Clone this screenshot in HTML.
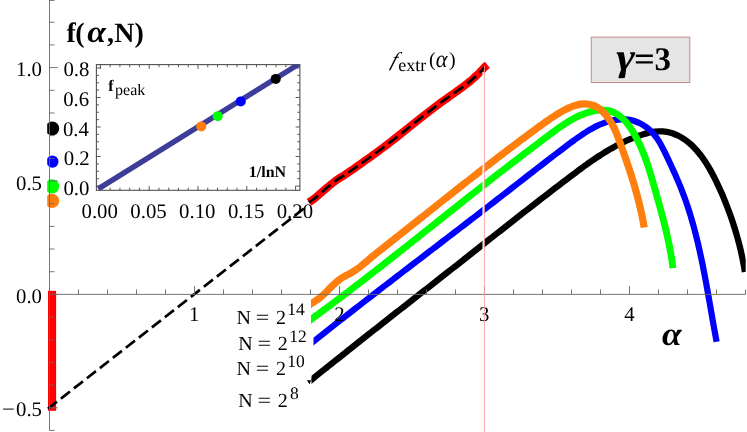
<!DOCTYPE html>
<html><head><meta charset="utf-8"><title>chart</title>
<style>html,body{margin:0;padding:0;background:#fff;overflow:hidden}svg{display:block}text{text-rendering:geometricPrecision}</style></head>
<body>
<svg width="747" height="432" viewBox="0 0 747 432">
<rect width="747" height="432" fill="#fff"/>
<rect x="48" y="290.8" width="8.1" height="120" fill="#f00"/>
<path d="M308.91,202.40 C309.43,202.04 311.00,201.03 312.04,200.27 C313.09,199.52 314.13,198.71 315.18,197.87 C316.23,197.04 317.27,196.16 318.32,195.27 C319.37,194.38 320.42,193.45 321.47,192.53 C322.52,191.62 323.57,190.68 324.63,189.75 C325.69,188.83 326.75,187.90 327.81,186.99 C328.87,186.09 329.93,185.19 331.00,184.33 C332.07,183.48 333.14,182.65 334.22,181.85 C335.30,181.05 336.38,180.30 337.46,179.55 C338.55,178.81 339.63,178.09 340.72,177.38 C341.81,176.67 342.91,175.97 344.00,175.27 C345.10,174.56 346.20,173.86 347.29,173.15 C348.39,172.43 349.49,171.70 350.60,170.95 C351.70,170.21 352.80,169.44 353.90,168.68 C355.01,167.91 356.11,167.13 357.22,166.35 C358.32,165.57 359.42,164.78 360.53,163.99 C361.63,163.20 362.73,162.41 363.84,161.62 C364.94,160.84 366.04,160.06 367.14,159.27 C368.24,158.49 369.34,157.71 370.44,156.93 C371.53,156.15 372.63,155.37 373.72,154.58 C374.81,153.80 375.90,153.01 376.99,152.22 C378.07,151.42 379.16,150.63 380.24,149.82 C381.32,149.02 382.40,148.22 383.47,147.40 C384.55,146.59 385.62,145.78 386.69,144.96 C387.76,144.14 388.83,143.32 389.89,142.49 C390.96,141.67 392.03,140.84 393.09,140.01 C394.15,139.18 395.21,138.34 396.27,137.51 C397.33,136.67 398.39,135.83 399.45,134.99 C400.51,134.16 401.56,133.31 402.62,132.47 C403.68,131.63 404.73,130.79 405.79,129.94 C406.84,129.10 407.90,128.25 408.95,127.41 C410.01,126.57 411.06,125.72 412.12,124.88 C413.17,124.03 414.23,123.19 415.28,122.35 C416.34,121.51 417.40,120.66 418.46,119.82 C419.51,118.98 420.57,118.14 421.63,117.31 C422.69,116.47 423.75,115.64 424.82,114.81 C425.88,113.97 426.95,113.14 428.01,112.32 C429.08,111.49 430.15,110.67 431.22,109.85 C432.29,109.03 433.36,108.21 434.44,107.40 C435.52,106.59 436.59,105.78 437.67,104.97 C438.76,104.17 439.84,103.37 440.93,102.58 C442.02,101.78 443.11,101.00 444.20,100.21 C445.29,99.43 446.39,98.65 447.49,97.87 C448.59,97.09 449.69,96.32 450.78,95.54 C451.88,94.77 452.98,94.00 454.08,93.22 C455.17,92.44 456.27,91.66 457.36,90.88 C458.45,90.09 459.54,89.31 460.62,88.51 C461.70,87.72 462.78,86.92 463.85,86.10 C464.92,85.29 465.99,84.48 467.04,83.64 C468.10,82.81 469.14,81.97 470.18,81.12 C471.22,80.26 472.24,79.39 473.26,78.51 C474.28,77.62 475.28,76.72 476.27,75.80 C477.26,74.88 478.24,73.95 479.20,72.99 C480.17,72.03 481.12,71.06 482.05,70.06 C482.98,69.06 484.34,67.50 484.80,66.99 L487.4,64.9" fill="none" stroke="#f00" stroke-width="8" stroke-linejoin="round"/>
<line x1="47.9" y1="408.75" x2="306" y2="206.85" stroke="#000" stroke-width="2.7" stroke-dasharray="11.5,5"/>
<path d="M308.91,202.40 C309.43,202.04 311.00,201.03 312.04,200.27 C313.09,199.52 314.13,198.71 315.18,197.87 C316.23,197.04 317.27,196.16 318.32,195.27 C319.37,194.38 320.42,193.45 321.47,192.53 C322.52,191.62 323.57,190.68 324.63,189.75 C325.69,188.83 326.75,187.90 327.81,186.99 C328.87,186.09 329.93,185.19 331.00,184.33 C332.07,183.48 333.14,182.65 334.22,181.85 C335.30,181.05 336.38,180.30 337.46,179.55 C338.55,178.81 339.63,178.09 340.72,177.38 C341.81,176.67 342.91,175.97 344.00,175.27 C345.10,174.56 346.20,173.86 347.29,173.15 C348.39,172.43 349.49,171.70 350.60,170.95 C351.70,170.21 352.80,169.44 353.90,168.68 C355.01,167.91 356.11,167.13 357.22,166.35 C358.32,165.57 359.42,164.78 360.53,163.99 C361.63,163.20 362.73,162.41 363.84,161.62 C364.94,160.84 366.04,160.06 367.14,159.27 C368.24,158.49 369.34,157.71 370.44,156.93 C371.53,156.15 372.63,155.37 373.72,154.58 C374.81,153.80 375.90,153.01 376.99,152.22 C378.07,151.42 379.16,150.63 380.24,149.82 C381.32,149.02 382.40,148.22 383.47,147.40 C384.55,146.59 385.62,145.78 386.69,144.96 C387.76,144.14 388.83,143.32 389.89,142.49 C390.96,141.67 392.03,140.84 393.09,140.01 C394.15,139.18 395.21,138.34 396.27,137.51 C397.33,136.67 398.39,135.83 399.45,134.99 C400.51,134.16 401.56,133.31 402.62,132.47 C403.68,131.63 404.73,130.79 405.79,129.94 C406.84,129.10 407.90,128.25 408.95,127.41 C410.01,126.57 411.06,125.72 412.12,124.88 C413.17,124.03 414.23,123.19 415.28,122.35 C416.34,121.51 417.40,120.66 418.46,119.82 C419.51,118.98 420.57,118.14 421.63,117.31 C422.69,116.47 423.75,115.64 424.82,114.81 C425.88,113.97 426.95,113.14 428.01,112.32 C429.08,111.49 430.15,110.67 431.22,109.85 C432.29,109.03 433.36,108.21 434.44,107.40 C435.52,106.59 436.59,105.78 437.67,104.97 C438.76,104.17 439.84,103.37 440.93,102.58 C442.02,101.78 443.11,101.00 444.20,100.21 C445.29,99.43 446.39,98.65 447.49,97.87 C448.59,97.09 449.69,96.32 450.78,95.54 C451.88,94.77 452.98,94.00 454.08,93.22 C455.17,92.44 456.27,91.66 457.36,90.88 C458.45,90.09 459.54,89.31 460.62,88.51 C461.70,87.72 462.78,86.92 463.85,86.10 C464.92,85.29 465.99,84.48 467.04,83.64 C468.10,82.81 469.14,81.97 470.18,81.12 C471.22,80.26 472.24,79.39 473.26,78.51 C474.28,77.62 475.28,76.72 476.27,75.80 C477.26,74.88 478.24,73.95 479.20,72.99 C480.17,72.03 481.12,71.06 482.05,70.06 C482.98,69.06 484.34,67.50 484.80,66.99" fill="none" stroke="#000" stroke-width="2.7" stroke-dasharray="11.5,5"/>
<clipPath id="ck"><rect x="311.50" y="0" width="434.20" height="432"/></clipPath>
<clipPath id="cb"><rect x="313.50" y="0" width="432.20" height="432"/></clipPath>
<clipPath id="cg"><rect x="311.00" y="0" width="434.70" height="432"/></clipPath>
<clipPath id="co"><rect x="311.00" y="0" width="434.70" height="432"/></clipPath>
<g fill="none" stroke-linejoin="round">
<path d="M300.01,389.00 C300.53,388.58 302.09,387.32 303.13,386.48 C304.17,385.64 305.21,384.80 306.25,383.96 C307.29,383.12 308.33,382.28 309.37,381.44 C310.41,380.61 311.45,379.77 312.50,378.93 C313.54,378.09 314.58,377.26 315.62,376.42 C316.66,375.58 317.70,374.75 318.75,373.91 C319.79,373.08 320.83,372.24 321.87,371.41 C322.92,370.57 323.96,369.74 325.00,368.91 C326.05,368.07 327.09,367.24 328.13,366.40 C329.17,365.57 330.22,364.74 331.26,363.91 C332.31,363.07 333.35,362.24 334.39,361.41 C335.44,360.58 336.48,359.75 337.52,358.92 C338.57,358.09 339.61,357.26 340.66,356.43 C341.70,355.60 342.75,354.77 343.79,353.94 C344.84,353.11 345.88,352.28 346.93,351.45 C347.97,350.62 349.02,349.79 350.06,348.97 C351.11,348.14 352.15,347.31 353.20,346.48 C354.24,345.65 355.29,344.83 356.34,344.00 C357.38,343.17 358.43,342.35 359.47,341.52 C360.52,340.69 361.57,339.87 362.61,339.04 C363.66,338.21 364.70,337.39 365.75,336.56 C366.80,335.74 367.84,334.91 368.89,334.09 C369.94,333.26 370.99,332.44 372.03,331.61 C373.08,330.79 374.13,329.96 375.17,329.14 C376.22,328.31 377.27,327.49 378.32,326.66 C379.36,325.84 380.41,325.02 381.46,324.19 C382.51,323.37 383.55,322.55 384.60,321.72 C385.65,320.90 386.70,320.07 387.75,319.25 C388.79,318.43 389.84,317.61 390.89,316.78 C391.94,315.96 392.99,315.14 394.04,314.31 C395.08,313.49 396.13,312.67 397.18,311.84 C398.23,311.02 399.28,310.20 400.33,309.38 C401.38,308.55 402.43,307.73 403.47,306.91 C404.52,306.09 405.57,305.26 406.62,304.44 C407.67,303.62 408.72,302.80 409.77,301.97 C410.82,301.15 411.87,300.33 412.92,299.51 C413.97,298.68 415.02,297.86 416.06,297.04 C417.11,296.22 418.16,295.39 419.21,294.57 C420.26,293.75 421.31,292.93 422.36,292.10 C423.41,291.28 424.46,290.46 425.51,289.64 C426.56,288.81 427.61,287.99 428.66,287.17 C429.71,286.34 430.76,285.52 431.81,284.70 C432.86,283.87 433.91,283.05 434.96,282.23 C436.01,281.40 437.06,280.58 438.11,279.76 C439.16,278.93 440.21,278.11 441.26,277.29 C442.31,276.46 443.36,275.64 444.41,274.82 C445.46,273.99 446.51,273.17 447.56,272.34 C448.62,271.52 449.67,270.69 450.72,269.87 C451.77,269.04 452.82,268.22 453.87,267.39 C454.92,266.57 455.97,265.74 457.02,264.92 C458.07,264.09 459.12,263.27 460.17,262.44 C461.22,261.61 462.27,260.79 463.32,259.96 C464.37,259.14 465.42,258.31 466.47,257.48 C467.52,256.65 468.57,255.83 469.63,255.00 C470.68,254.17 471.73,253.34 472.78,252.52 C473.83,251.69 474.88,250.86 475.93,250.03 C476.98,249.21 478.03,248.38 479.08,247.55 C480.13,246.72 481.18,245.89 482.23,245.06 C483.28,244.24 484.34,243.41 485.39,242.58 C486.44,241.75 487.49,240.92 488.54,240.09 C489.59,239.27 490.64,238.44 491.69,237.61 C492.74,236.78 493.79,235.95 494.85,235.13 C495.90,234.30 496.95,233.47 498.00,232.64 C499.05,231.81 500.10,230.99 501.15,230.16 C502.20,229.33 503.26,228.51 504.31,227.68 C505.36,226.85 506.41,226.03 507.46,225.20 C508.52,224.37 509.57,223.55 510.62,222.72 C511.67,221.90 512.72,221.07 513.78,220.25 C514.83,219.42 515.88,218.60 516.93,217.77 C517.98,216.95 519.04,216.12 520.09,215.30 C521.14,214.48 522.19,213.65 523.25,212.83 C524.30,212.01 525.35,211.19 526.41,210.37 C527.46,209.55 528.51,208.72 529.57,207.90 C530.62,207.08 531.67,206.26 532.73,205.45 C533.78,204.63 534.83,203.81 535.89,202.99 C536.94,202.17 538.00,201.36 539.05,200.54 C540.10,199.72 541.16,198.91 542.21,198.09 C543.27,197.28 544.32,196.46 545.38,195.65 C546.43,194.84 547.49,194.02 548.54,193.21 C549.60,192.40 550.65,191.59 551.71,190.78 C552.76,189.97 553.82,189.16 554.87,188.35 C555.93,187.54 556.99,186.73 558.04,185.93 C559.10,185.12 560.15,184.31 561.21,183.51 C562.27,182.71 563.32,181.90 564.38,181.10 C565.44,180.30 566.49,179.49 567.55,178.69 C568.61,177.89 569.67,177.09 570.72,176.29 C571.78,175.50 572.84,174.70 573.90,173.90 C574.96,173.11 576.02,172.31 577.08,171.52 C578.14,170.73 579.20,169.94 580.26,169.15 C581.33,168.37 582.40,167.58 583.47,166.80 C584.54,166.02 585.61,165.25 586.69,164.48 C587.76,163.70 588.84,162.94 589.93,162.18 C591.02,161.41 592.10,160.66 593.20,159.91 C594.30,159.16 595.40,158.41 596.50,157.67 C597.61,156.93 598.72,156.20 599.84,155.48 C600.96,154.75 602.09,154.03 603.22,153.32 C604.35,152.61 605.49,151.91 606.64,151.22 C607.79,150.53 608.95,149.84 610.12,149.16 C611.28,148.49 612.46,147.82 613.65,147.17 C614.83,146.51 616.03,145.87 617.23,145.23 C618.43,144.60 619.64,143.98 620.86,143.37 C622.08,142.76 623.31,142.16 624.55,141.58 C625.78,141.00 627.02,140.44 628.27,139.89 C629.52,139.34 630.77,138.81 632.03,138.30 C633.29,137.78 634.55,137.29 635.82,136.81 C637.09,136.34 638.36,135.88 639.64,135.45 C640.91,135.01 642.19,134.60 643.48,134.21 C644.76,133.82 646.05,133.45 647.33,133.12 C648.62,132.80 649.91,132.49 651.20,132.24 C652.49,131.99 653.79,131.78 655.08,131.63 C656.37,131.47 657.67,131.36 658.96,131.33 C660.25,131.29 661.54,131.31 662.83,131.41 C664.12,131.50 665.41,131.66 666.69,131.89 C667.97,132.11 669.25,132.40 670.50,132.75 C671.76,133.10 673.01,133.51 674.23,133.97 C675.45,134.43 676.66,134.95 677.84,135.52 C679.02,136.08 680.18,136.70 681.31,137.36 C682.44,138.02 683.54,138.73 684.62,139.48 C685.70,140.23 686.76,141.02 687.79,141.84 C688.82,142.67 689.83,143.53 690.82,144.43 C691.80,145.32 692.76,146.25 693.70,147.20 C694.64,148.15 695.55,149.13 696.45,150.14 C697.34,151.14 698.21,152.17 699.06,153.22 C699.91,154.26 700.74,155.33 701.55,156.42 C702.35,157.50 703.14,158.61 703.91,159.73 C704.68,160.84 705.43,161.98 706.17,163.13 C706.90,164.27 707.62,165.44 708.32,166.61 C709.02,167.77 709.70,168.96 710.37,170.14 C711.04,171.33 711.69,172.52 712.33,173.72 C712.97,174.92 713.59,176.13 714.21,177.33 C714.82,178.54 715.42,179.75 716.01,180.95 C716.59,182.16 717.17,183.36 717.74,184.57 C718.30,185.77 718.86,186.97 719.40,188.17 C719.95,189.37 720.49,190.56 721.02,191.76 C721.55,192.96 722.07,194.16 722.58,195.36 C723.09,196.56 723.60,197.77 724.10,198.98 C724.60,200.19 725.10,201.41 725.59,202.63 C726.08,203.86 726.56,205.09 727.04,206.32 C727.52,207.55 727.99,208.79 728.45,210.04 C728.92,211.28 729.38,212.53 729.83,213.78 C730.28,215.04 730.73,216.30 731.16,217.56 C731.60,218.82 732.03,220.09 732.46,221.35 C732.88,222.62 733.30,223.90 733.71,225.18 C734.12,226.45 734.52,227.73 734.92,229.02 C735.31,230.30 735.70,231.59 736.08,232.88 C736.46,234.16 736.83,235.46 737.20,236.75 C737.56,238.04 737.92,239.34 738.26,240.64 C738.61,241.94 738.95,243.24 739.28,244.54 C739.61,245.84 739.94,247.15 740.25,248.45 C740.56,249.76 740.87,251.06 741.16,252.37 C741.46,253.68 741.74,254.99 742.02,256.29 C742.30,257.60 742.57,258.91 742.83,260.22 C743.08,261.53 743.33,262.84 743.57,264.15 C743.81,265.46 744.04,266.77 744.26,268.08 C744.48,269.39 744.79,271.35 744.89,272.00" stroke="#000" stroke-width="6.3" clip-path="url(#ck)"/>
<path d="M306.8,380.2 L312,380.2 L312,378 L309.6,384.2 Z" fill="#000"/>
<path d="M300.02,352.34 C300.54,351.92 302.09,350.67 303.13,349.83 C304.17,349.00 305.21,348.16 306.25,347.33 C307.29,346.50 308.33,345.66 309.37,344.83 C310.42,344.00 311.46,343.16 312.50,342.33 C313.54,341.50 314.59,340.66 315.63,339.83 C316.68,339.00 317.72,338.17 318.77,337.34 C319.81,336.51 320.86,335.68 321.91,334.85 C322.95,334.01 324.00,333.18 325.05,332.35 C326.10,331.53 327.15,330.70 328.20,329.87 C329.25,329.04 330.30,328.21 331.35,327.38 C332.40,326.55 333.45,325.72 334.50,324.90 C335.55,324.07 336.60,323.24 337.66,322.41 C338.71,321.59 339.76,320.76 340.82,319.93 C341.87,319.11 342.93,318.28 343.98,317.46 C345.04,316.63 346.09,315.80 347.15,314.98 C348.20,314.15 349.26,313.33 350.32,312.50 C351.37,311.68 352.43,310.86 353.49,310.03 C354.54,309.21 355.60,308.38 356.66,307.56 C357.72,306.74 358.78,305.91 359.84,305.09 C360.90,304.27 361.95,303.44 363.01,302.62 C364.07,301.80 365.13,300.98 366.20,300.16 C367.26,299.33 368.32,298.51 369.38,297.69 C370.44,296.87 371.50,296.05 372.56,295.23 C373.62,294.41 374.69,293.59 375.75,292.77 C376.81,291.94 377.87,291.12 378.94,290.30 C380.00,289.48 381.06,288.66 382.12,287.84 C383.19,287.03 384.25,286.21 385.31,285.39 C386.38,284.57 387.44,283.75 388.51,282.93 C389.57,282.11 390.63,281.29 391.70,280.47 C392.76,279.66 393.83,278.84 394.89,278.02 C395.96,277.20 397.02,276.38 398.09,275.57 C399.15,274.75 400.22,273.93 401.28,273.11 C402.35,272.30 403.41,271.48 404.48,270.66 C405.54,269.84 406.61,269.03 407.67,268.21 C408.74,267.39 409.80,266.58 410.87,265.76 C411.94,264.94 413.00,264.13 414.07,263.31 C415.13,262.50 416.20,261.68 417.26,260.86 C418.33,260.05 419.39,259.23 420.46,258.42 C421.53,257.60 422.59,256.78 423.66,255.97 C424.72,255.15 425.79,254.34 426.85,253.52 C427.92,252.71 428.98,251.89 430.05,251.08 C431.11,250.26 432.18,249.45 433.24,248.63 C434.31,247.82 435.37,247.00 436.44,246.19 C437.50,245.37 438.57,244.56 439.63,243.74 C440.69,242.93 441.76,242.11 442.82,241.30 C443.89,240.48 444.95,239.67 446.01,238.86 C447.08,238.04 448.14,237.23 449.20,236.41 C450.27,235.60 451.33,234.78 452.39,233.97 C453.45,233.16 454.52,232.34 455.58,231.53 C456.64,230.71 457.70,229.90 458.76,229.09 C459.83,228.27 460.89,227.46 461.95,226.64 C463.01,225.83 464.07,225.01 465.13,224.20 C466.19,223.39 467.25,222.57 468.31,221.76 C469.37,220.94 470.43,220.13 471.49,219.32 C472.55,218.50 473.60,217.69 474.66,216.87 C475.72,216.06 476.78,215.25 477.84,214.43 C478.89,213.62 479.95,212.80 481.01,211.99 C482.06,211.17 483.12,210.36 484.17,209.55 C485.23,208.73 486.28,207.92 487.34,207.10 C488.39,206.29 489.45,205.47 490.50,204.66 C491.55,203.84 492.61,203.03 493.66,202.22 C494.71,201.40 495.76,200.59 496.82,199.77 C497.87,198.96 498.92,198.14 499.97,197.33 C501.02,196.51 502.07,195.70 503.12,194.88 C504.17,194.07 505.22,193.25 506.26,192.44 C507.31,191.62 508.36,190.80 509.41,189.99 C510.46,189.17 511.51,188.36 512.55,187.54 C513.60,186.73 514.65,185.91 515.70,185.09 C516.75,184.28 517.79,183.46 518.84,182.64 C519.89,181.83 520.94,181.01 521.99,180.19 C523.04,179.38 524.09,178.56 525.14,177.74 C526.19,176.92 527.24,176.11 528.29,175.29 C529.34,174.47 530.40,173.65 531.45,172.83 C532.50,172.02 533.56,171.20 534.61,170.38 C535.67,169.56 536.72,168.74 537.78,167.92 C538.84,167.10 539.89,166.28 540.95,165.46 C542.01,164.64 543.07,163.82 544.14,163.00 C545.20,162.18 546.26,161.36 547.33,160.54 C548.39,159.72 549.46,158.90 550.53,158.08 C551.60,157.25 552.67,156.43 553.74,155.61 C554.81,154.79 555.88,153.96 556.96,153.14 C558.04,152.32 559.11,151.49 560.19,150.67 C561.27,149.85 562.36,149.02 563.44,148.20 C564.52,147.38 565.61,146.56 566.70,145.74 C567.79,144.92 568.88,144.11 569.97,143.30 C571.07,142.49 572.16,141.68 573.26,140.89 C574.36,140.09 575.46,139.30 576.57,138.52 C577.67,137.73 578.78,136.96 579.89,136.19 C581.00,135.43 582.12,134.67 583.23,133.93 C584.35,133.19 585.47,132.46 586.60,131.75 C587.73,131.04 588.87,130.35 590.02,129.67 C591.16,129.00 592.31,128.35 593.48,127.72 C594.65,127.09 595.82,126.48 597.01,125.91 C598.20,125.33 599.40,124.78 600.62,124.26 C601.84,123.74 603.07,123.25 604.32,122.80 C605.57,122.35 606.84,121.93 608.12,121.56 C609.41,121.18 610.71,120.84 612.02,120.55 C613.32,120.26 614.65,120.01 615.97,119.81 C617.29,119.62 618.63,119.47 619.96,119.39 C621.28,119.31 622.62,119.27 623.94,119.31 C625.26,119.35 626.59,119.44 627.89,119.61 C629.20,119.78 630.50,120.02 631.79,120.33 C633.07,120.64 634.34,121.02 635.59,121.46 C636.83,121.89 638.06,122.40 639.26,122.97 C640.46,123.53 641.64,124.16 642.79,124.83 C643.93,125.51 645.05,126.25 646.13,127.03 C647.21,127.81 648.25,128.65 649.25,129.52 C650.25,130.40 651.22,131.33 652.13,132.29 C653.05,133.26 653.92,134.27 654.75,135.31 C655.58,136.34 656.37,137.42 657.13,138.53 C657.89,139.63 658.61,140.76 659.31,141.91 C660.01,143.07 660.68,144.25 661.34,145.44 C661.99,146.63 662.62,147.84 663.24,149.05 C663.86,150.27 664.45,151.50 665.05,152.72 C665.65,153.95 666.23,155.19 666.82,156.42 C667.40,157.65 667.99,158.88 668.56,160.10 C669.14,161.33 669.72,162.55 670.29,163.78 C670.86,165.00 671.43,166.22 671.99,167.45 C672.56,168.67 673.12,169.89 673.67,171.11 C674.23,172.34 674.77,173.56 675.32,174.78 C675.86,176.01 676.40,177.23 676.93,178.45 C677.46,179.68 677.99,180.91 678.50,182.14 C679.02,183.36 679.53,184.59 680.04,185.83 C680.54,187.06 681.04,188.29 681.53,189.53 C682.01,190.77 682.49,192.01 682.97,193.26 C683.44,194.50 683.90,195.75 684.36,197.00 C684.81,198.25 685.26,199.50 685.70,200.76 C686.14,202.01 686.58,203.27 687.00,204.53 C687.43,205.79 687.85,207.06 688.26,208.33 C688.67,209.59 689.07,210.86 689.47,212.13 C689.87,213.40 690.26,214.68 690.65,215.95 C691.03,217.23 691.41,218.51 691.78,219.79 C692.16,221.07 692.52,222.35 692.88,223.64 C693.24,224.92 693.60,226.21 693.95,227.50 C694.29,228.79 694.64,230.08 694.98,231.38 C695.31,232.67 695.65,233.96 695.97,235.26 C696.30,236.56 696.62,237.85 696.94,239.15 C697.26,240.45 697.57,241.76 697.88,243.06 C698.19,244.36 698.49,245.67 698.79,246.97 C699.09,248.28 699.38,249.59 699.67,250.90 C699.96,252.20 700.25,253.51 700.53,254.83 C700.82,256.14 701.10,257.45 701.37,258.76 C701.65,260.08 701.92,261.39 702.19,262.71 C702.46,264.02 702.73,265.34 702.99,266.65 C703.25,267.97 703.51,269.29 703.77,270.61 C704.03,271.93 704.28,273.25 704.53,274.56 C704.78,275.88 705.03,277.21 705.28,278.53 C705.53,279.85 705.78,281.17 706.02,282.49 C706.26,283.81 706.50,285.13 706.74,286.46 C706.98,287.78 707.22,289.10 707.46,290.42 C707.70,291.74 707.93,293.07 708.17,294.39 C708.40,295.71 708.64,297.03 708.87,298.36 C709.10,299.68 709.33,301.00 709.57,302.32 C709.80,303.65 710.03,304.97 710.26,306.29 C710.49,307.61 710.72,308.93 710.95,310.25 C711.18,311.57 711.41,312.89 711.64,314.21 C711.87,315.53 712.10,316.85 712.33,318.17 C712.56,319.49 712.80,320.80 713.03,322.12 C713.26,323.44 713.50,324.75 713.73,326.07 C713.96,327.38 714.20,328.70 714.44,330.01 C714.67,331.32 714.91,332.64 715.15,333.95 C715.39,335.26 715.63,336.57 715.88,337.87 C716.12,339.18 716.49,341.14 716.61,341.79" stroke="#00f" stroke-width="6.2" clip-path="url(#cb)"/>
<path d="M299.99,327.40 C300.53,327.01 302.16,325.84 303.24,325.06 C304.33,324.28 305.41,323.50 306.49,322.72 C307.58,321.93 308.66,321.15 309.74,320.37 C310.82,319.58 311.90,318.79 312.98,318.01 C314.06,317.22 315.13,316.43 316.21,315.64 C317.29,314.85 318.36,314.06 319.44,313.27 C320.51,312.48 321.59,311.69 322.66,310.89 C323.74,310.10 324.81,309.30 325.88,308.51 C326.95,307.71 328.02,306.92 329.09,306.12 C330.16,305.32 331.23,304.52 332.30,303.72 C333.37,302.92 334.44,302.12 335.51,301.32 C336.58,300.52 337.64,299.71 338.71,298.91 C339.78,298.11 340.84,297.30 341.91,296.50 C342.97,295.69 344.03,294.88 345.10,294.08 C346.16,293.27 347.22,292.46 348.29,291.65 C349.35,290.84 350.41,290.03 351.47,289.22 C352.53,288.41 353.59,287.60 354.65,286.79 C355.71,285.98 356.77,285.16 357.83,284.35 C358.89,283.54 359.95,282.72 361.00,281.91 C362.06,281.09 363.12,280.28 364.18,279.46 C365.23,278.64 366.29,277.83 367.34,277.01 C368.40,276.19 369.45,275.37 370.51,274.56 C371.56,273.74 372.62,272.92 373.67,272.10 C374.73,271.28 375.78,270.46 376.83,269.64 C377.88,268.81 378.94,267.99 379.99,267.17 C381.04,266.35 382.09,265.52 383.14,264.70 C384.20,263.88 385.25,263.05 386.30,262.23 C387.35,261.41 388.40,260.58 389.45,259.76 C390.50,258.93 391.55,258.11 392.60,257.28 C393.65,256.45 394.70,255.63 395.74,254.80 C396.79,253.97 397.84,253.15 398.89,252.32 C399.94,251.49 400.99,250.66 402.03,249.84 C403.08,249.01 404.13,248.18 405.18,247.35 C406.22,246.52 407.27,245.69 408.32,244.87 C409.37,244.04 410.41,243.21 411.46,242.38 C412.50,241.55 413.55,240.72 414.60,239.89 C415.64,239.06 416.69,238.23 417.74,237.40 C418.78,236.57 419.83,235.74 420.87,234.91 C421.92,234.08 422.97,233.24 424.01,232.41 C425.06,231.58 426.10,230.75 427.15,229.92 C428.19,229.09 429.24,228.26 430.28,227.43 C431.33,226.60 432.38,225.77 433.42,224.94 C434.47,224.10 435.51,223.27 436.56,222.44 C437.60,221.61 438.65,220.78 439.69,219.95 C440.74,219.12 441.79,218.29 442.83,217.46 C443.88,216.63 444.92,215.79 445.97,214.96 C447.01,214.13 448.06,213.30 449.11,212.47 C450.15,211.64 451.20,210.81 452.24,209.98 C453.29,209.15 454.34,208.32 455.38,207.49 C456.43,206.66 457.48,205.83 458.52,205.00 C459.57,204.18 460.62,203.35 461.67,202.52 C462.71,201.69 463.76,200.86 464.81,200.03 C465.86,199.20 466.90,198.38 467.95,197.55 C469.00,196.72 470.05,195.89 471.10,195.07 C472.15,194.24 473.20,193.41 474.25,192.59 C475.29,191.76 476.34,190.94 477.39,190.11 C478.44,189.29 479.49,188.46 480.55,187.64 C481.60,186.81 482.65,185.99 483.70,185.17 C484.75,184.34 485.80,183.52 486.85,182.70 C487.91,181.88 488.96,181.05 490.01,180.23 C491.06,179.41 492.12,178.59 493.17,177.77 C494.23,176.95 495.28,176.13 496.33,175.31 C497.39,174.49 498.44,173.67 499.50,172.86 C500.56,172.04 501.61,171.22 502.67,170.40 C503.72,169.59 504.78,168.77 505.84,167.96 C506.90,167.14 507.96,166.33 509.01,165.51 C510.07,164.70 511.13,163.89 512.19,163.07 C513.25,162.26 514.31,161.45 515.37,160.64 C516.43,159.83 517.49,159.02 518.55,158.21 C519.61,157.40 520.68,156.59 521.74,155.78 C522.80,154.97 523.86,154.16 524.92,153.35 C525.99,152.55 527.05,151.74 528.11,150.93 C529.17,150.13 530.24,149.32 531.30,148.51 C532.36,147.71 533.43,146.90 534.49,146.10 C535.55,145.29 536.62,144.49 537.68,143.69 C538.74,142.88 539.81,142.08 540.87,141.28 C541.93,140.47 543.00,139.67 544.06,138.87 C545.13,138.07 546.19,137.27 547.25,136.46 C548.32,135.66 549.38,134.86 550.45,134.06 C551.51,133.27 552.58,132.47 553.65,131.68 C554.72,130.89 555.79,130.10 556.87,129.32 C557.95,128.54 559.03,127.77 560.13,127.01 C561.22,126.25 562.32,125.50 563.44,124.76 C564.55,124.02 565.67,123.30 566.81,122.59 C567.94,121.88 569.09,121.19 570.25,120.51 C571.41,119.84 572.59,119.18 573.78,118.54 C574.98,117.91 576.19,117.29 577.42,116.70 C578.65,116.11 579.90,115.54 581.17,115.00 C582.43,114.46 583.72,113.95 585.02,113.47 C586.32,113.00 587.64,112.56 588.96,112.16 C590.28,111.77 591.61,111.42 592.94,111.13 C594.26,110.84 595.60,110.59 596.92,110.42 C598.25,110.24 599.57,110.12 600.88,110.08 C602.19,110.04 603.50,110.06 604.78,110.17 C606.07,110.28 607.34,110.46 608.58,110.74 C609.83,111.02 611.06,111.39 612.26,111.84 C613.45,112.29 614.63,112.84 615.76,113.45 C616.89,114.06 618.00,114.76 619.06,115.51 C620.12,116.27 621.14,117.09 622.12,117.97 C623.10,118.84 624.03,119.77 624.93,120.75 C625.83,121.72 626.69,122.74 627.52,123.79 C628.35,124.84 629.14,125.94 629.91,127.04 C630.68,128.15 631.41,129.29 632.13,130.44 C632.84,131.58 633.53,132.75 634.20,133.91 C634.87,135.08 635.52,136.25 636.15,137.43 C636.78,138.61 637.39,139.80 637.98,140.99 C638.57,142.18 639.15,143.37 639.71,144.57 C640.26,145.78 640.80,146.98 641.33,148.20 C641.86,149.41 642.37,150.63 642.87,151.85 C643.36,153.07 643.85,154.30 644.32,155.53 C644.79,156.77 645.25,158.00 645.70,159.25 C646.15,160.49 646.58,161.73 647.01,162.99 C647.44,164.24 647.86,165.49 648.27,166.75 C648.68,168.01 649.08,169.27 649.48,170.54 C649.87,171.80 650.26,173.07 650.65,174.35 C651.03,175.62 651.41,176.90 651.79,178.18 C652.16,179.46 652.54,180.74 652.91,182.02 C653.28,183.31 653.64,184.60 654.01,185.89 C654.38,187.18 654.74,188.47 655.11,189.77 C655.47,191.07 655.84,192.36 656.21,193.66 C656.57,194.96 656.94,196.27 657.31,197.57 C657.67,198.87 658.04,200.18 658.40,201.49 C658.76,202.79 659.13,204.10 659.49,205.41 C659.85,206.72 660.21,208.03 660.56,209.35 C660.92,210.66 661.28,211.97 661.63,213.28 C661.98,214.60 662.33,215.91 662.67,217.23 C663.01,218.54 663.36,219.85 663.69,221.17 C664.03,222.48 664.36,223.80 664.69,225.11 C665.01,226.43 665.34,227.74 665.65,229.06 C665.97,230.37 666.28,231.69 666.59,233.00 C666.89,234.31 667.19,235.63 667.48,236.94 C667.78,238.25 668.06,239.56 668.34,240.87 C668.62,242.18 668.89,243.49 669.15,244.79 C669.42,246.10 669.67,247.40 669.92,248.71 C670.16,250.01 670.40,251.31 670.63,252.61 C670.86,253.91 671.08,255.21 671.29,256.50 C671.50,257.80 671.70,259.09 671.89,260.38 C672.08,261.67 672.26,262.96 672.43,264.24 C672.60,265.52 672.82,267.44 672.90,268.08" stroke="#0f0" stroke-width="6.9" clip-path="url(#cg)"/>
<path d="M304.00,309.00 C305.21,308.10 308.77,305.32 311.25,303.60 C313.73,301.88 316.47,300.55 318.90,298.70 C321.32,296.85 323.48,294.73 325.80,292.50 C328.12,290.27 330.48,287.47 332.80,285.30 C335.12,283.13 337.38,281.18 339.70,279.50 C342.02,277.82 344.38,276.55 346.70,275.20 C349.02,273.85 351.28,272.85 353.60,271.40 C355.92,269.95 358.28,268.28 360.60,266.50 C362.92,264.72 365.20,262.64 367.50,260.70 C369.80,258.76 372.71,256.27 374.38,254.89 C376.06,253.50 376.50,253.22 377.55,252.39 C378.61,251.56 379.66,250.72 380.72,249.89 C381.77,249.06 382.83,248.22 383.88,247.39 C384.93,246.56 385.99,245.72 387.04,244.89 C388.09,244.06 389.14,243.23 390.19,242.39 C391.24,241.56 392.29,240.73 393.34,239.89 C394.39,239.06 395.44,238.23 396.49,237.40 C397.54,236.56 398.58,235.73 399.63,234.90 C400.68,234.07 401.73,233.23 402.77,232.40 C403.82,231.57 404.87,230.74 405.91,229.90 C406.96,229.07 408.01,228.24 409.05,227.41 C410.10,226.58 411.14,225.75 412.19,224.91 C413.23,224.08 414.28,223.25 415.32,222.42 C416.37,221.59 417.41,220.76 418.46,219.93 C419.50,219.10 420.54,218.27 421.59,217.44 C422.63,216.61 423.68,215.78 424.72,214.95 C425.76,214.12 426.81,213.29 427.85,212.46 C428.89,211.63 429.94,210.80 430.98,209.97 C432.02,209.14 433.07,208.31 434.11,207.48 C435.15,206.65 436.20,205.82 437.24,205.00 C438.28,204.17 439.33,203.34 440.37,202.51 C441.42,201.69 442.46,200.86 443.50,200.03 C444.55,199.20 445.59,198.38 446.64,197.55 C447.68,196.72 448.73,195.90 449.77,195.07 C450.82,194.25 451.86,193.42 452.91,192.60 C453.95,191.77 455.00,190.95 456.04,190.12 C457.09,189.30 458.13,188.47 459.18,187.65 C460.23,186.83 461.27,186.00 462.32,185.18 C463.37,184.36 464.42,183.53 465.47,182.71 C466.51,181.89 467.56,181.07 468.61,180.25 C469.66,179.42 470.71,178.60 471.76,177.78 C472.81,176.96 473.86,176.14 474.91,175.32 C475.96,174.50 477.02,173.68 478.07,172.86 C479.12,172.04 480.17,171.23 481.23,170.41 C482.28,169.59 483.34,168.77 484.39,167.95 C485.45,167.14 486.50,166.32 487.56,165.50 C488.62,164.69 489.67,163.87 490.73,163.06 C491.79,162.24 492.85,161.43 493.91,160.61 C494.97,159.80 496.03,158.98 497.09,158.17 C498.15,157.36 499.21,156.55 500.28,155.73 C501.34,154.92 502.40,154.11 503.47,153.30 C504.53,152.49 505.60,151.68 506.66,150.87 C507.73,150.06 508.80,149.25 509.87,148.44 C510.94,147.63 512.01,146.82 513.08,146.01 C514.15,145.21 515.22,144.40 516.29,143.59 C517.37,142.79 518.44,141.98 519.52,141.17 C520.59,140.37 521.67,139.56 522.75,138.76 C523.82,137.96 524.90,137.15 525.98,136.35 C527.06,135.55 528.14,134.75 529.23,133.94 C530.31,133.14 531.39,132.34 532.48,131.54 C533.56,130.74 534.65,129.94 535.74,129.14 C536.83,128.34 537.91,127.55 539.00,126.75 C540.10,125.95 541.19,125.15 542.28,124.36 C543.38,123.57 544.47,122.77 545.57,121.99 C546.67,121.20 547.77,120.42 548.88,119.66 C549.99,118.89 551.10,118.13 552.22,117.38 C553.34,116.64 554.46,115.90 555.59,115.19 C556.72,114.48 557.86,113.78 559.00,113.10 C560.15,112.42 561.30,111.76 562.47,111.13 C563.63,110.50 564.80,109.89 565.99,109.31 C567.17,108.73 568.37,108.17 569.57,107.65 C570.78,107.13 572.00,106.63 573.23,106.19 C574.46,105.74 575.70,105.32 576.96,104.98 C578.22,104.65 579.49,104.36 580.78,104.17 C582.07,103.99 583.37,103.86 584.69,103.87 C586.02,103.88 587.37,103.98 588.71,104.21 C590.05,104.43 591.44,104.79 592.73,105.23 C594.03,105.68 595.32,106.24 596.50,106.87 C597.68,107.50 598.77,108.24 599.81,109.02 C600.84,109.81 601.80,110.68 602.72,111.58 C603.65,112.49 604.51,113.46 605.36,114.46 C606.21,115.45 607.02,116.49 607.81,117.56 C608.60,118.63 609.36,119.73 610.09,120.85 C610.83,121.98 611.54,123.13 612.21,124.31 C612.87,125.48 613.50,126.68 614.09,127.88 C614.68,129.09 615.23,130.32 615.76,131.56 C616.28,132.80 616.77,134.05 617.26,135.30 C617.75,136.55 618.21,137.81 618.68,139.07 C619.14,140.33 619.60,141.59 620.06,142.85 C620.52,144.11 620.98,145.37 621.44,146.63 C621.90,147.89 622.35,149.15 622.80,150.41 C623.25,151.67 623.70,152.93 624.14,154.19 C624.59,155.45 625.03,156.71 625.47,157.97 C625.91,159.24 626.34,160.50 626.78,161.76 C627.21,163.02 627.64,164.29 628.06,165.55 C628.48,166.81 628.90,168.08 629.32,169.34 C629.74,170.61 630.15,171.88 630.56,173.14 C630.96,174.41 631.37,175.68 631.76,176.95 C632.16,178.22 632.56,179.49 632.94,180.77 C633.33,182.04 633.71,183.31 634.09,184.59 C634.47,185.87 634.84,187.14 635.21,188.42 C635.57,189.70 635.94,190.98 636.29,192.27 C636.64,193.55 636.99,194.84 637.34,196.12 C637.68,197.41 638.02,198.70 638.34,199.99 C638.67,201.28 639.00,202.58 639.31,203.87 C639.63,205.17 639.94,206.47 640.24,207.77 C640.54,209.07 640.84,210.38 641.13,211.68 C641.41,212.99 641.69,214.30 641.96,215.61 C642.24,216.92 642.50,218.24 642.76,219.56 C643.01,220.87 643.26,222.20 643.50,223.52 C643.74,224.84 644.08,226.84 644.20,227.50" stroke="#ff7f0e" stroke-width="7.2" clip-path="url(#co)"/>
</g>
<clipPath id="c"><rect x="47.2" y="0" width="700" height="432"/></clipPath>
<g clip-path="url(#c)">
<circle cx="52.3" cy="128.5" r="6.9" fill="#000"/>
<circle cx="52.45" cy="161.6" r="6.05" fill="#00f"/>
<circle cx="52" cy="186.4" r="7.2" fill="#0f0"/>
<circle cx="52" cy="200.9" r="7.2" fill="#ff7f0e"/>
</g>
<line x1="483.2" y1="72" x2="483.2" y2="432" stroke="#fff" stroke-width="1.4"/>
<g stroke="#666" stroke-width="0.9" fill="none">
<line x1="49.50" y1="0" x2="49.50" y2="430.78"/>
<line x1="49.50" y1="0.45" x2="54.50" y2="0.45"/>
<line x1="49.50" y1="294.40" x2="745.5" y2="294.40"/>
<line x1="49.50" y1="430.48" x2="54.50" y2="430.48"/>
<line x1="49.50" y1="407.80" x2="57.80" y2="407.80"/>
<line x1="49.50" y1="385.12" x2="54.50" y2="385.12"/>
<line x1="49.50" y1="362.44" x2="54.50" y2="362.44"/>
<line x1="49.50" y1="339.76" x2="54.50" y2="339.76"/>
<line x1="49.50" y1="317.08" x2="54.50" y2="317.08"/>
<line x1="49.50" y1="294.40" x2="57.80" y2="294.40"/>
<line x1="49.50" y1="271.72" x2="54.50" y2="271.72"/>
<line x1="49.50" y1="249.04" x2="54.50" y2="249.04"/>
<line x1="49.50" y1="226.36" x2="54.50" y2="226.36"/>
<line x1="49.50" y1="203.68" x2="54.50" y2="203.68"/>
<line x1="49.50" y1="181.00" x2="57.80" y2="181.00"/>
<line x1="49.50" y1="158.32" x2="54.50" y2="158.32"/>
<line x1="49.50" y1="135.64" x2="54.50" y2="135.64"/>
<line x1="49.50" y1="112.96" x2="54.50" y2="112.96"/>
<line x1="49.50" y1="90.28" x2="54.50" y2="90.28"/>
<line x1="49.50" y1="67.60" x2="57.80" y2="67.60"/>
<line x1="49.50" y1="44.92" x2="54.50" y2="44.92"/>
<line x1="49.50" y1="22.24" x2="54.50" y2="22.24"/>
<line x1="49.50" y1="-0.44" x2="54.50" y2="-0.44"/>
<line x1="78.50" y1="294.40" x2="78.50" y2="289.40"/>
<line x1="107.50" y1="294.40" x2="107.50" y2="289.40"/>
<line x1="136.50" y1="294.40" x2="136.50" y2="289.40"/>
<line x1="165.50" y1="294.40" x2="165.50" y2="289.40"/>
<line x1="194.50" y1="294.40" x2="194.50" y2="286.10"/>
<line x1="223.50" y1="294.40" x2="223.50" y2="289.40"/>
<line x1="252.50" y1="294.40" x2="252.50" y2="289.40"/>
<line x1="281.50" y1="294.40" x2="281.50" y2="289.40"/>
<line x1="310.50" y1="294.40" x2="310.50" y2="289.40"/>
<line x1="339.50" y1="294.40" x2="339.50" y2="286.10"/>
<line x1="368.50" y1="294.40" x2="368.50" y2="289.40"/>
<line x1="397.50" y1="294.40" x2="397.50" y2="289.40"/>
<line x1="426.50" y1="294.40" x2="426.50" y2="289.40"/>
<line x1="455.50" y1="294.40" x2="455.50" y2="289.40"/>
<line x1="484.50" y1="294.40" x2="484.50" y2="286.10"/>
<line x1="513.50" y1="294.40" x2="513.50" y2="289.40"/>
<line x1="542.50" y1="294.40" x2="542.50" y2="289.40"/>
<line x1="571.50" y1="294.40" x2="571.50" y2="289.40"/>
<line x1="600.50" y1="294.40" x2="600.50" y2="289.40"/>
<line x1="629.50" y1="294.40" x2="629.50" y2="286.10"/>
<line x1="658.50" y1="294.40" x2="658.50" y2="289.40"/>
<line x1="687.50" y1="294.40" x2="687.50" y2="289.40"/>
<line x1="716.50" y1="294.40" x2="716.50" y2="289.40"/>
<line x1="745.50" y1="294.40" x2="745.50" y2="289.40"/>
</g>
<g font-family="Liberation Serif, serif" opacity="0.999">
<text x="15.99" y="76.20" font-size="20.8" fill="#000">1.0</text>
<text x="16.01" y="189.60" font-size="20.8" fill="#000">0.5</text>
<text x="15.99" y="303.00" font-size="20.8" fill="#000">0.0</text>
<text x="16.01" y="416.40" font-size="20.8" fill="#000">0.5</text>
<text transform="translate(1.96,416.40) scale(1.100,1.000)" font-size="20.8" fill="#000">−</text>
<text x="188.91" y="321.40" font-size="20.8" fill="#000">1</text>
<text x="334.32" y="321.40" font-size="20.8" fill="#000">2</text>
<text x="479.11" y="321.40" font-size="20.8" fill="#000">3</text>
<text x="624.16" y="321.40" font-size="20.8" fill="#000">4</text>
</g>
<line x1="484.4" y1="66" x2="484.4" y2="432" stroke="#ff9c9c" stroke-width="0.9"/>
<rect x="96.40" y="64.60" width="203.50" height="125.70" fill="#fff" stroke="#505050" stroke-width="1.1"/>
<g stroke="#505050" stroke-width="0.95">
<line x1="100.40" y1="190.30" x2="100.40" y2="186.00"/>
<line x1="100.40" y1="64.60" x2="100.40" y2="68.90"/>
<line x1="110.16" y1="190.30" x2="110.16" y2="187.70"/>
<line x1="110.16" y1="64.60" x2="110.16" y2="67.20"/>
<line x1="119.92" y1="190.30" x2="119.92" y2="187.70"/>
<line x1="119.92" y1="64.60" x2="119.92" y2="67.20"/>
<line x1="129.68" y1="190.30" x2="129.68" y2="187.70"/>
<line x1="129.68" y1="64.60" x2="129.68" y2="67.20"/>
<line x1="139.44" y1="190.30" x2="139.44" y2="187.70"/>
<line x1="139.44" y1="64.60" x2="139.44" y2="67.20"/>
<line x1="149.20" y1="190.30" x2="149.20" y2="186.00"/>
<line x1="149.20" y1="64.60" x2="149.20" y2="68.90"/>
<line x1="158.96" y1="190.30" x2="158.96" y2="187.70"/>
<line x1="158.96" y1="64.60" x2="158.96" y2="67.20"/>
<line x1="168.72" y1="190.30" x2="168.72" y2="187.70"/>
<line x1="168.72" y1="64.60" x2="168.72" y2="67.20"/>
<line x1="178.48" y1="190.30" x2="178.48" y2="187.70"/>
<line x1="178.48" y1="64.60" x2="178.48" y2="67.20"/>
<line x1="188.24" y1="190.30" x2="188.24" y2="187.70"/>
<line x1="188.24" y1="64.60" x2="188.24" y2="67.20"/>
<line x1="198.00" y1="190.30" x2="198.00" y2="186.00"/>
<line x1="198.00" y1="64.60" x2="198.00" y2="68.90"/>
<line x1="207.76" y1="190.30" x2="207.76" y2="187.70"/>
<line x1="207.76" y1="64.60" x2="207.76" y2="67.20"/>
<line x1="217.52" y1="190.30" x2="217.52" y2="187.70"/>
<line x1="217.52" y1="64.60" x2="217.52" y2="67.20"/>
<line x1="227.28" y1="190.30" x2="227.28" y2="187.70"/>
<line x1="227.28" y1="64.60" x2="227.28" y2="67.20"/>
<line x1="237.04" y1="190.30" x2="237.04" y2="187.70"/>
<line x1="237.04" y1="64.60" x2="237.04" y2="67.20"/>
<line x1="246.80" y1="190.30" x2="246.80" y2="186.00"/>
<line x1="246.80" y1="64.60" x2="246.80" y2="68.90"/>
<line x1="256.56" y1="190.30" x2="256.56" y2="187.70"/>
<line x1="256.56" y1="64.60" x2="256.56" y2="67.20"/>
<line x1="266.32" y1="190.30" x2="266.32" y2="187.70"/>
<line x1="266.32" y1="64.60" x2="266.32" y2="67.20"/>
<line x1="276.08" y1="190.30" x2="276.08" y2="187.70"/>
<line x1="276.08" y1="64.60" x2="276.08" y2="67.20"/>
<line x1="285.84" y1="190.30" x2="285.84" y2="187.70"/>
<line x1="285.84" y1="64.60" x2="285.84" y2="67.20"/>
<line x1="295.60" y1="190.30" x2="295.60" y2="186.00"/>
<line x1="295.60" y1="64.60" x2="295.60" y2="68.90"/>
<line x1="96.40" y1="186.05" x2="100.70" y2="186.05"/>
<line x1="299.90" y1="186.05" x2="295.60" y2="186.05"/>
<line x1="96.40" y1="178.67" x2="99.00" y2="178.67"/>
<line x1="299.90" y1="178.67" x2="297.30" y2="178.67"/>
<line x1="96.40" y1="171.29" x2="99.00" y2="171.29"/>
<line x1="299.90" y1="171.29" x2="297.30" y2="171.29"/>
<line x1="96.40" y1="163.91" x2="99.00" y2="163.91"/>
<line x1="299.90" y1="163.91" x2="297.30" y2="163.91"/>
<line x1="96.40" y1="156.53" x2="100.70" y2="156.53"/>
<line x1="299.90" y1="156.53" x2="295.60" y2="156.53"/>
<line x1="96.40" y1="149.15" x2="99.00" y2="149.15"/>
<line x1="299.90" y1="149.15" x2="297.30" y2="149.15"/>
<line x1="96.40" y1="141.77" x2="99.00" y2="141.77"/>
<line x1="299.90" y1="141.77" x2="297.30" y2="141.77"/>
<line x1="96.40" y1="134.39" x2="99.00" y2="134.39"/>
<line x1="299.90" y1="134.39" x2="297.30" y2="134.39"/>
<line x1="96.40" y1="127.01" x2="100.70" y2="127.01"/>
<line x1="299.90" y1="127.01" x2="295.60" y2="127.01"/>
<line x1="96.40" y1="119.63" x2="99.00" y2="119.63"/>
<line x1="299.90" y1="119.63" x2="297.30" y2="119.63"/>
<line x1="96.40" y1="112.25" x2="99.00" y2="112.25"/>
<line x1="299.90" y1="112.25" x2="297.30" y2="112.25"/>
<line x1="96.40" y1="104.87" x2="99.00" y2="104.87"/>
<line x1="299.90" y1="104.87" x2="297.30" y2="104.87"/>
<line x1="96.40" y1="97.49" x2="100.70" y2="97.49"/>
<line x1="299.90" y1="97.49" x2="295.60" y2="97.49"/>
<line x1="96.40" y1="90.11" x2="99.00" y2="90.11"/>
<line x1="299.90" y1="90.11" x2="297.30" y2="90.11"/>
<line x1="96.40" y1="82.73" x2="99.00" y2="82.73"/>
<line x1="299.90" y1="82.73" x2="297.30" y2="82.73"/>
<line x1="96.40" y1="75.35" x2="99.00" y2="75.35"/>
<line x1="299.90" y1="75.35" x2="297.30" y2="75.35"/>
<line x1="96.40" y1="67.97" x2="100.70" y2="67.97"/>
<line x1="299.90" y1="67.97" x2="295.60" y2="67.97"/>
</g>
<clipPath id="ci"><rect x="96.40" y="64.60" width="203.50" height="125.70"/></clipPath>
<line x1="98.3" y1="188.9" x2="300.5" y2="63.05" stroke="#3d3d99" stroke-width="5.4" clip-path="url(#ci)"/>
<circle cx="201.25" cy="126.4" r="5" fill="#ff7f0e"/>
<circle cx="217.75" cy="116.15" r="5" fill="#0f0"/>
<circle cx="240.75" cy="101.4" r="5" fill="#00f"/>
<circle cx="275.75" cy="78.9" r="5" fill="#000"/>
<g font-family="Liberation Serif, serif" opacity="0.999">
<text x="63.39" y="76.47" font-size="20.8" fill="#000">0.8</text>
<text x="63.22" y="105.99" font-size="20.8" fill="#000">0.6</text>
<text x="62.92" y="135.51" font-size="20.8" fill="#000">0.4</text>
<text x="63.75" y="165.03" font-size="20.8" fill="#000">0.2</text>
<text x="63.39" y="194.55" font-size="20.8" fill="#000">0.0</text>
<text x="81.50" y="217.60" font-size="20.8" fill="#000">0.00</text>
<text x="130.31" y="217.60" font-size="20.8" fill="#000">0.05</text>
<text x="179.10" y="217.60" font-size="20.8" fill="#000">0.10</text>
<text x="227.91" y="217.60" font-size="20.8" fill="#000">0.15</text>
<text x="276.70" y="217.60" font-size="20.8" fill="#000">0.20</text>
<text x="108.28" y="90.50" font-size="16" font-weight="bold" fill="#000">f</text>
<text x="115.04" y="94.50" font-size="16" fill="#000">peak</text>
<text x="248.82" y="177.30" font-size="16" font-weight="bold" fill="#000">1/lnN</text>
</g>
<g font-family="Liberation Serif, serif" opacity="0.999">
<text x="66.59" y="41.50" font-size="28" font-weight="bold" fill="#000">f</text>
<text x="75.37" y="41.50" font-size="28" font-weight="bold" fill="#000">(</text>
<text transform="translate(87.35,41.50) scale(1.210,1.090)" font-size="28" font-weight="bold" font-style="italic" fill="#000">α</text>
<text x="106.93" y="41.50" font-size="28" font-weight="bold" fill="#000">,</text>
<text x="114.27" y="41.50" font-size="28" font-weight="bold" fill="#000">N</text>
<text x="134.61" y="41.50" font-size="28" font-weight="bold" fill="#000">)</text>
<text transform="translate(389.9,66.4) skewX(-18)" font-size="20" font-style="italic">f</text>
<text x="398.20" y="70.80" font-size="18" fill="#000">extr</text>
<text x="429.12" y="66.40" font-size="20" fill="#000">(</text>
<text transform="translate(435.74,66.50) scale(0.920,1.000)" font-size="24.2" font-style="italic" fill="#000">α</text>
<text x="448.92" y="66.40" font-size="20" fill="#000">)</text>
</g>
<rect x="591.3" y="37.1" width="98.5" height="45.4" fill="#e5e5e5" stroke="#c98a8a" stroke-width="1"/>
<g font-family="Liberation Serif, serif" opacity="0.999">
<text transform="translate(616.16,70.30) scale(1.380,1.170)" font-size="33" font-weight="bold" font-style="italic" fill="#000">γ</text>
<text transform="translate(634.08,70.30) scale(1.110,1.000)" font-size="33" font-weight="bold" fill="#000">=</text>
<text x="654.53" y="70.30" font-size="33" font-weight="bold" fill="#000">3</text>
<text transform="translate(662.03,345.00) scale(1.075,1.000)" font-size="33" font-weight="bold" font-style="italic" fill="#000">α</text>
<text x="236.42" y="323.60" font-size="20" fill="#000">N</text>
<text transform="translate(255.80,323.60) scale(1.200,1.000)" font-size="20" fill="#000">=</text>
<text x="276.02" y="323.60" font-size="20" fill="#000">2</text>
<text x="287.36" y="315.30" font-size="17.5" fill="#000">14</text>
<text x="238.22" y="350.00" font-size="20" fill="#000">N</text>
<text transform="translate(257.60,350.00) scale(1.200,1.000)" font-size="20" fill="#000">=</text>
<text x="277.82" y="350.00" font-size="20" fill="#000">2</text>
<text x="289.16" y="341.70" font-size="17.5" fill="#000">12</text>
<text x="236.42" y="375.30" font-size="20" fill="#000">N</text>
<text transform="translate(255.80,375.30) scale(1.200,1.000)" font-size="20" fill="#000">=</text>
<text x="276.02" y="375.30" font-size="20" fill="#000">2</text>
<text x="287.36" y="367.00" font-size="17.5" fill="#000">10</text>
<text x="238.22" y="406.80" font-size="20" fill="#000">N</text>
<text transform="translate(257.60,406.80) scale(1.200,1.000)" font-size="20" fill="#000">=</text>
<text x="277.82" y="406.80" font-size="20" fill="#000">2</text>
<text x="290.03" y="398.50" font-size="17.5" fill="#000">8</text>
</g>
</svg>
</body></html>
